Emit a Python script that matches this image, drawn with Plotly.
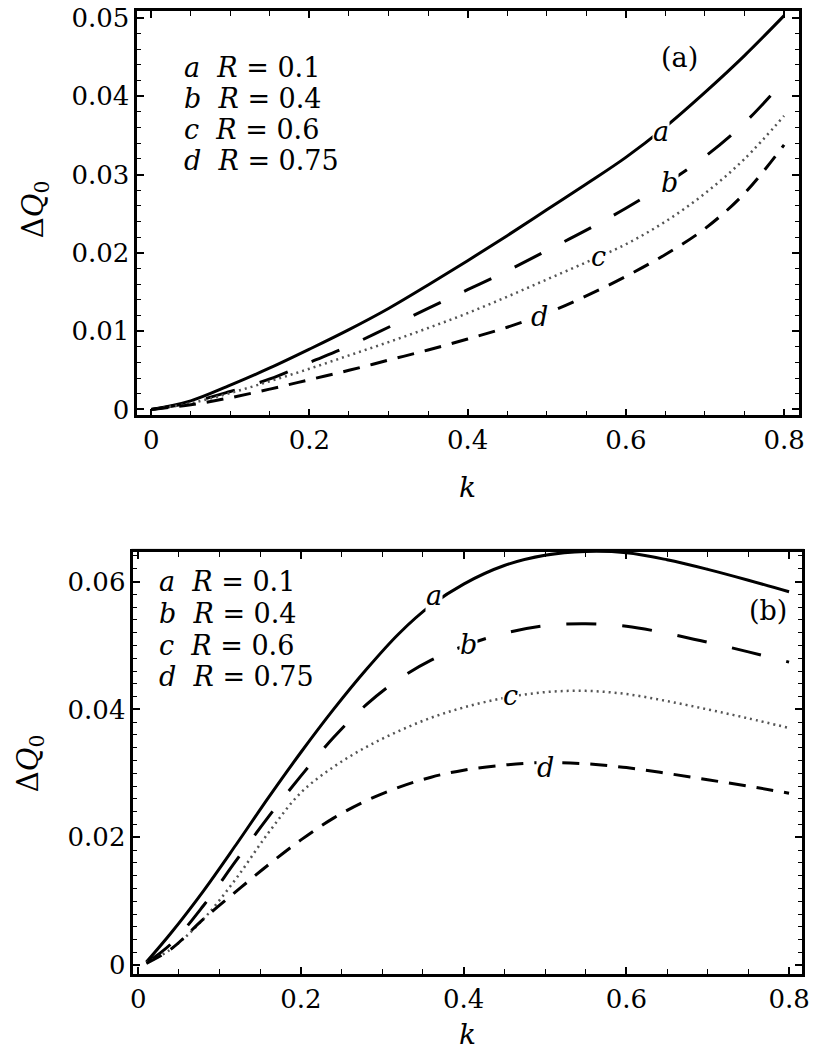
import plotly.graph_objects as go

W, H = 815, 1055

# ---------------- data ----------------
k_top = [0, 0.05, 0.1, 0.15, 0.2, 0.25, 0.3, 0.35, 0.4, 0.45, 0.5, 0.55, 0.6, 0.65, 0.7, 0.75, 0.8]
top_a = [0, 0.0011, 0.0031, 0.0053, 0.0077, 0.0102, 0.0129, 0.0159, 0.0190, 0.0222, 0.0255, 0.0288, 0.0322, 0.0361, 0.0405, 0.0452, 0.0503]
top_b = [0, 0.0009, 0.0023, 0.0039, 0.0060, 0.0081, 0.0105, 0.0129, 0.0153, 0.0177, 0.0203, 0.0229, 0.0257, 0.0288, 0.0323, 0.0366, 0.0420]
top_c = [0, 0.0008, 0.0021, 0.0036, 0.0052, 0.0069, 0.0086, 0.0104, 0.0123, 0.0144, 0.0166, 0.0188, 0.0211, 0.0240, 0.0276, 0.0320, 0.0375]
top_d = [0, 0.0006, 0.0015, 0.0026, 0.0038, 0.0050, 0.0063, 0.0076, 0.0090, 0.0105, 0.0123, 0.0145, 0.0170, 0.0198, 0.0231, 0.0276, 0.0338]

k_bot = [0.01, 0.04, 0.08, 0.12, 0.16, 0.2, 0.24, 0.28, 0.32, 0.36, 0.4, 0.45, 0.5, 0.55, 0.6, 0.65, 0.7, 0.75, 0.8]
bot_a = [0.0005, 0.0050, 0.0116, 0.0188, 0.0262, 0.0333, 0.0400, 0.0462, 0.0518, 0.0563, 0.0596, 0.0625, 0.0641, 0.0647, 0.0645, 0.0634, 0.0619, 0.0602, 0.0584]
bot_b = [0.0004, 0.0033, 0.0093, 0.0163, 0.0232, 0.0296, 0.0356, 0.0407, 0.0447, 0.0477, 0.0499, 0.0519, 0.0531, 0.0534, 0.0530, 0.0519, 0.0505, 0.0490, 0.0474]
bot_c = [0.0004, 0.0025, 0.0072, 0.0135, 0.0207, 0.0270, 0.0310, 0.0341, 0.0366, 0.0387, 0.0403, 0.0418, 0.0427, 0.0429, 0.0424, 0.0413, 0.0400, 0.0386, 0.0371]
bot_d = [0.0003, 0.0025, 0.0072, 0.0115, 0.0157, 0.0196, 0.0230, 0.0257, 0.0278, 0.0294, 0.0305, 0.0313, 0.0317, 0.0315, 0.0309, 0.0300, 0.0290, 0.0280, 0.0269]

curve_names = ["a", "b", "c", "d"]
R_values = ["0.1", "0.4", "0.6", "0.75"]

# label positions on curves (k, value)
top_lab = {"a": (0.645, 0.0355), "b": (0.655, 0.0290), "c": (0.566, 0.0195), "d": (0.491, 0.0119)}
bot_lab = {"a": (0.363, 0.0578), "b": (0.406, 0.0502), "c": (0.457, 0.0422), "d": (0.501, 0.0309)}

FONT = "DejaVu Serif"

def px(x):
    return x / W

def py(y):
    return 1 - y / H

fig = go.Figure()

styles = {
    "a": dict(color="black", width=3, dash="solid"),
    "b": dict(color="black", width=3, dash="30px,26px"),
    "c": dict(color="#555555", width=2.5, dash="2px,4px"),
    "d": dict(color="black", width=3, dash="17px,11px"),
}

for name, ys in zip(curve_names, [top_a, top_b, top_c, top_d]):
    fig.add_trace(go.Scatter(x=k_top, y=ys, mode="lines", line=dict(shape="spline", **styles[name]),
                             xaxis="x", yaxis="y", showlegend=False))
for name, ys in zip(curve_names, [bot_a, bot_b, bot_c, bot_d]):
    fig.add_trace(go.Scatter(x=k_bot, y=ys, mode="lines", line=dict(shape="spline", **styles[name]),
                             xaxis="x2", yaxis="y2", showlegend=False))

axis_common = dict(showline=True, linewidth=2.5, linecolor="black", mirror="allticks",
                   ticks="inside", ticklen=7, tickwidth=1.5, tickcolor="black",
                   showgrid=False, zeroline=False, ticklabeloverflow="allow",
                   tickfont=dict(family=FONT, size=26, color="black"))

fig.update_layout(
    width=W, height=H, margin=dict(l=0, r=0, t=0, b=0),
    paper_bgcolor="white", plot_bgcolor="white",
    xaxis=dict(domain=[px(136), px(806)], range=[-0.0175, 0.819], anchor="y",
               tickvals=[0, 0.2, 0.4, 0.6, 0.8], ticktext=["0", "0.2", "0.4", "0.6", "0.8"],
               minor=dict(ticks="inside", dtick=0.05, tick0=0, ticklen=5, tickwidth=1.2, tickcolor="black"),
               **axis_common),
    yaxis=dict(domain=[py(414), py(3)], range=[-0.00075, 0.0509], anchor="x",
               tickvals=[0, 0.01, 0.02, 0.03, 0.04, 0.05], ticktext=["0", "0.01", "0.02", "0.03", "0.04", "0.05"],
               minor=dict(ticks="inside", dtick=0.002, tick0=0, ticklen=4, tickwidth=1.2, tickcolor="black"),
               **axis_common),
    xaxis2=dict(domain=[px(132), px(809)], range=[-0.006, 0.816], anchor="y2",
                tickvals=[0, 0.2, 0.4, 0.6, 0.8], ticktext=["0", "0.2", "0.4", "0.6", "0.8"],
                minor=dict(ticks="inside", dtick=0.05, tick0=0, ticklen=5, tickwidth=1.2, tickcolor="black"),
                **axis_common),
    yaxis2=dict(domain=[py(982), py(553)], range=[-0.0014, 0.0646], anchor="x2",
                tickvals=[0, 0.02, 0.04, 0.06], ticktext=["0", "0.02", "0.04", "0.06"],
                minor=dict(ticks="inside", dtick=0.002, tick0=0, ticklen=4, tickwidth=1.2, tickcolor="black"),
                **axis_common),
)

ann = []
nb = "\u00a0"

def paper_text(x, y, text, size, xanchor="center", angle=0):
    return dict(x=px(x), y=py(y), xref="paper", yref="paper", text=text, showarrow=False,
                xanchor=xanchor, yanchor="middle", textangle=angle,
                font=dict(family=FONT, size=size, color="black"))

# legend blocks
for i, (n, r) in enumerate(zip(curve_names, R_values)):
    txt = f"<i>{n}</i>{nb}{nb}<i>R</i>{nb}={nb}{r}"
    ann.append(paper_text(181, 60 + i * 31.5, txt, 27, xanchor="left"))
    ann.append(paper_text(156, 583 + i * 32.3, txt, 27, xanchor="left"))

# panel tags
ann.append(paper_text(685, 50, "(a)", 27))
ann.append(paper_text(774, 612, "(b)", 27))

# curve labels with white background (gap in the lines)
for n in curve_names:
    kx, vy = top_lab[n]
    ann.append(dict(x=kx, y=vy, xref="x", yref="y", text=f"<i>{n}</i>", showarrow=False,
                    xanchor="center", yanchor="middle",
                    bgcolor="white", borderpad=0, font=dict(family=FONT, size=27, color="black")))
    kx, vy = bot_lab[n]
    ann.append(dict(x=kx, y=vy, xref="x2", yref="y2", text=f"<i>{n}</i>", showarrow=False,
                    xanchor="center", yanchor="middle",
                    bgcolor="white", borderpad=0, font=dict(family=FONT, size=27, color="black")))

# axis titles
ann.append(paper_text(470, 487, "<i>k</i>", 28))
ann.append(paper_text(470, 1043, "<i>k</i>", 28))
ann.append(paper_text(32, 205, "Δ<i>Q</i><sub>0</sub>", 29, angle=-90))
ann.append(paper_text(27, 768, "Δ<i>Q</i><sub>0</sub>", 29, angle=-90))

fig.update_layout(annotations=ann)

# faint grey outer frames
for (x0, y0, x1, y1) in [(134, 1, 808, 416), (130, 550, 811, 984)]:
    fig.add_shape(type="rect", xref="paper", yref="paper", x0=px(x0), x1=px(x1), y0=py(y1), y1=py(y0),
                  line=dict(color="#bbbbbb", width=1), fillcolor="rgba(0,0,0,0)", layer="below")

fig.write_html("out.html")
